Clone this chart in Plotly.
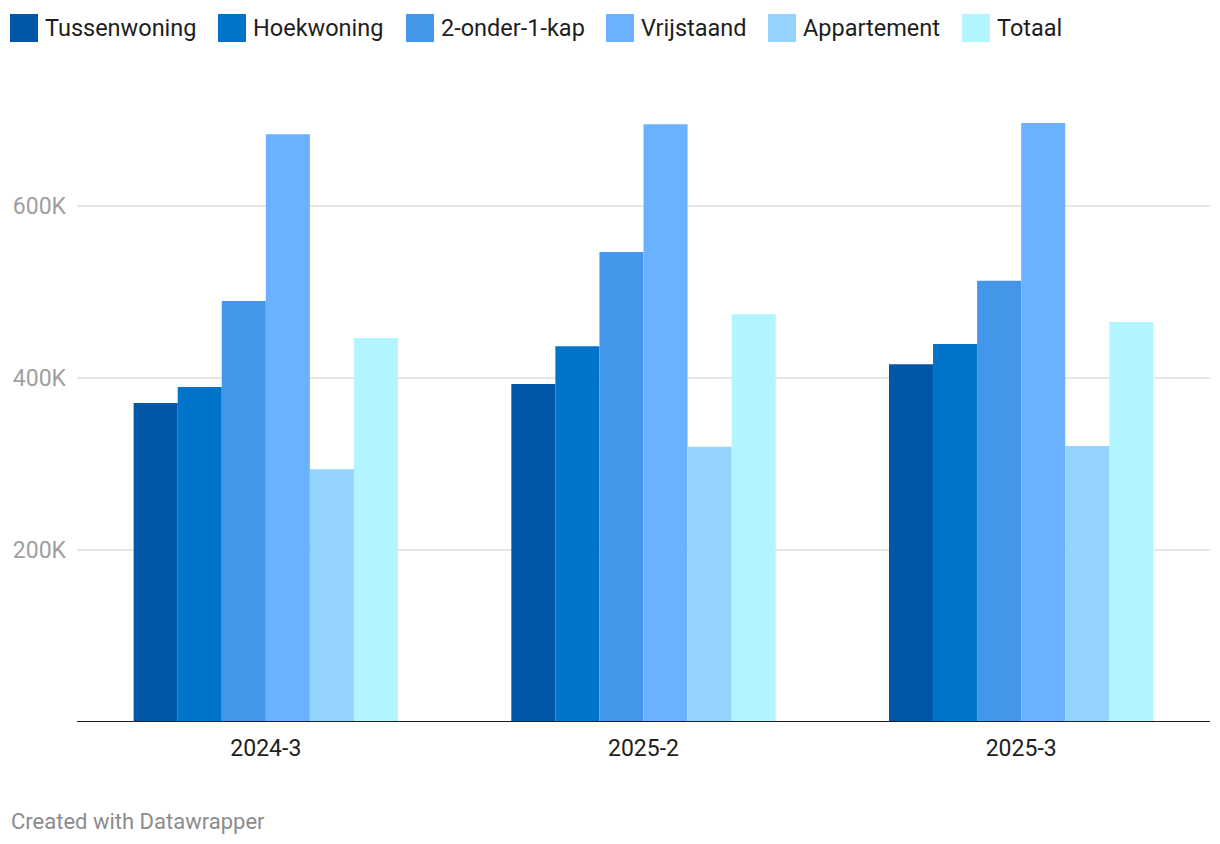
import plotly.graph_objects as go

categories = ["2024-3", "2025-2", "2025-3"]
series_names = ["Tussenwoning", "Hoekwoning", "2-onder-1-kap", "Vrijstaand", "Appartement", "Totaal"]
tussenwoning = [371000, 393000, 416000]
hoekwoning = [389500, 437000, 439500]
twee_onder_een_kap = [489500, 546500, 513000]
vrijstaand = [683500, 695000, 696500]
appartement = [294000, 320000, 321000]
totaal = [446500, 474000, 465000]
series_values = [tussenwoning, hoekwoning, twee_onder_een_kap, vrijstaand, appartement, totaal]
y_tick_values = [200000, 400000, 600000]
y_tick_labels = ["200K", "400K", "600K"]

colors = ["#0057a8", "#0074c8", "#4496ea", "#6ab2ff", "#94d4ff", "#b2f4ff"]

# page body has an 8px margin; work in viewport pixels and convert
OFF = 8
W, H = 1204, 828
L = 77 - OFF
T = 120 - OFF
R = W - (1210 - OFF)
B = H - (722 - OFF)
PW = W - L - R
PH = H - T - B

def px_x(vx):
    return (vx - OFF - L) / PW

def px_y(vy):
    return (H - B - (vy - OFF)) / PH

fig = go.Figure()
for name, vals, col in zip(series_names, series_values, colors):
    fig.add_trace(go.Bar(name=name, x=categories, y=vals, marker=dict(color=col, line=dict(width=0)),
                         showlegend=False, hoverinfo="x+y+name"))

# custom legend (squares + labels)
legend_sq_x = [10, 218, 406, 606, 768, 962]
shapes = []
annotations = []
for name, col, sx in zip(series_names, colors, legend_sq_x):
    shapes.append(dict(type="rect", xref="paper", yref="paper",
                       x0=px_x(sx), x1=px_x(sx + 28), y0=px_y(42), y1=px_y(14),
                       fillcolor=col, line=dict(width=0), layer="above"))
    annotations.append(dict(text=name, xref="paper", yref="paper", x=px_x(sx + 33), y=px_y(28),
                            xanchor="left", yanchor="middle", showarrow=False,
                            font=dict(family="Roboto", size=23.5, color="#1e1e1e")))

# baseline
shapes.append(dict(type="line", xref="paper", yref="y", x0=0, x1=1, y0=0, y1=0,
                   line=dict(color="#1e1e1e", width=2), layer="above"))

annotations.append(dict(text="Created with Datawrapper", xref="paper", yref="paper",
                        x=px_x(9), y=px_y(821), xanchor="left", yanchor="middle", showarrow=False,
                        font=dict(family="Roboto", size=22, color="#8c8c8c")))

fig.update_layout(
    width=W, height=H,
    margin=dict(l=L, r=R, t=T, b=B, autoexpand=False),
    paper_bgcolor="white", plot_bgcolor="white",
    barmode="group", bargap=0.3, bargroupgap=0,
    shapes=shapes, annotations=annotations,
    font=dict(family="Roboto"),
    xaxis=dict(type="category", range=[-0.5, 2.5], showgrid=False, zeroline=False, showline=False,
               ticks="", tickfont=dict(family="Roboto", size=23, color="#1e1e1e"), ticklabelstandoff=10),
    yaxis=dict(range=[0, 700000], tickvals=y_tick_values, ticktext=y_tick_labels,
               showgrid=True, gridcolor="#e6e6e6", gridwidth=2, zeroline=False, showline=False,
               ticks="", tickfont=dict(family="Roboto", size=23, color="#a0a0a0"), ticklabelstandoff=10),
)

fig.write_html("out.html")
